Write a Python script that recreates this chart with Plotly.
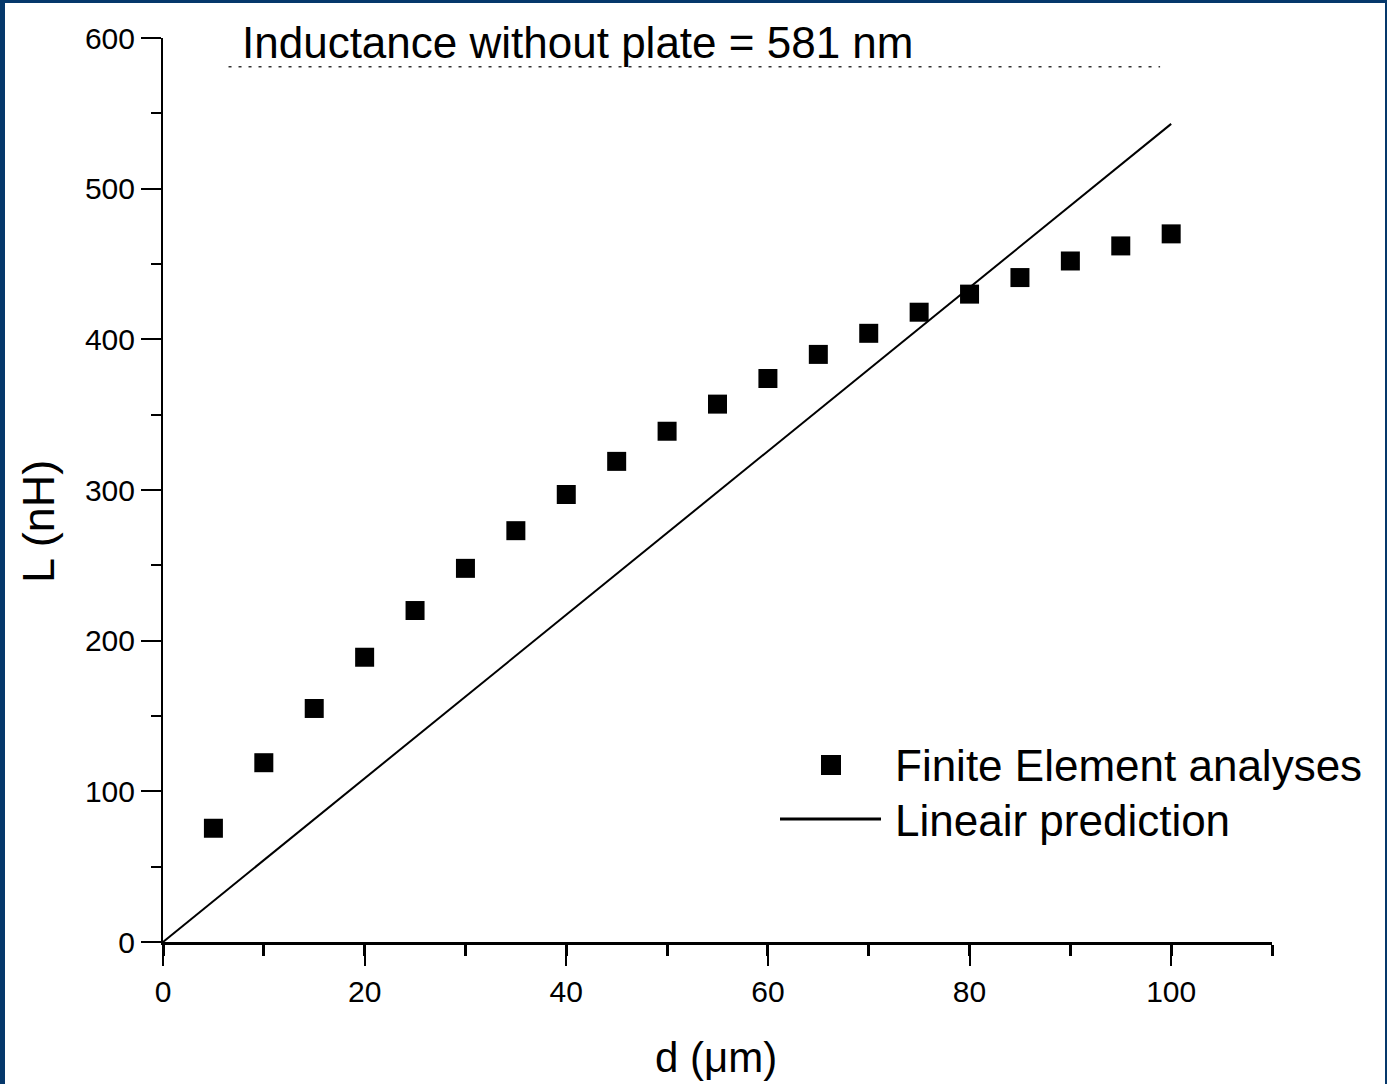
import plotly.graph_objects as go

# ---- data ----
d_fe = [5, 10, 15, 20, 25, 30, 35, 40, 45, 50, 55, 60, 65, 70, 75, 80, 85, 90, 95, 100]
L_fe = [75.5, 119, 155, 189, 220, 248, 273, 297, 319, 339, 357, 374, 390, 404, 418, 430, 441, 452, 462, 470]

d_lin = [0, 100]
L_lin = [0, 543]

no_plate_L = 581
no_plate_d = [6.5, 98.9]

x_ticks = [0, 20, 40, 60, 80, 100]
y_ticks = [0, 100, 200, 300, 400, 500, 600]

FONT = "Liberation Sans, Arial, sans-serif"
FRAME = "#05386b"

fig = go.Figure()

fig.add_trace(go.Scatter(
    x=no_plate_d, y=[no_plate_L] * len(no_plate_d), mode="lines",
    line=dict(color="#333333", width=1.5, dash="3px,7px"),
    showlegend=False, hoverinfo="skip"))

fig.add_trace(go.Scatter(
    x=d_lin, y=L_lin, mode="lines",
    line=dict(color="black", width=2),
    name="Lineair prediction", showlegend=False))

fig.add_trace(go.Scatter(
    x=d_fe, y=L_fe, mode="markers",
    marker=dict(symbol="square", size=19, color="black"),
    name="Finite Element analyses", showlegend=False))

# pixel -> paper helpers (plot area: x 163..1272, y 38..942)
def px(x):
    return (x - 163) / 1109.0

def py(y):
    return (942 - y) / 904.0

shapes = [
    # white page inside the blue frame
    dict(type="rect", xref="paper", yref="paper", layer="below",
         x0=px(5), x1=px(1385), y0=py(1100), y1=py(3),
         fillcolor="white", line=dict(width=0)),
    # legend marker
    dict(type="rect", xref="paper", yref="paper",
         x0=px(821), x1=px(841), y0=py(775), y1=py(755),
         fillcolor="black", line=dict(width=0)),
    # legend line
    dict(type="line", xref="paper", yref="paper",
         x0=px(780), x1=px(881), y0=py(819), y1=py(819),
         line=dict(color="black", width=3)),
]

annotations = [
    dict(text="Inductance without plate = 581 nm", xref="paper", yref="paper",
         x=px(240), y=py(42), xanchor="left", yanchor="middle", showarrow=False,
         font=dict(family=FONT, size=44, color="black")),
    dict(text="Finite Element analyses", xref="paper", yref="paper",
         x=px(893), y=py(765), xanchor="left", yanchor="middle", showarrow=False,
         font=dict(family=FONT, size=44, color="black")),
    dict(text="Lineair prediction", xref="paper", yref="paper",
         x=px(893), y=py(820), xanchor="left", yanchor="middle", showarrow=False,
         font=dict(family=FONT, size=44, color="black")),
    dict(text="d (\u03bcm)", xref="paper", yref="paper",
         x=px(716), y=py(1057), xanchor="center", yanchor="middle", showarrow=False,
         font=dict(family=FONT, size=42, color="black")),
    dict(text="L (nH)", xref="paper", yref="paper", textangle=-90,
         x=px(38), y=py(522), xanchor="center", yanchor="middle", showarrow=False,
         font=dict(family=FONT, size=45, color="black")),
]

fig.update_layout(
    width=1387, height=1084,
    margin=dict(l=163, r=115, t=38, b=142, pad=0),
    paper_bgcolor=FRAME, plot_bgcolor="white",
    font=dict(family=FONT, color="black"),
    shapes=shapes, annotations=annotations,
    showlegend=False,
)

fig.update_xaxes(
    range=[0, 110], tickvals=x_ticks, ticktext=[str(v) for v in x_ticks],
    showgrid=False, zeroline=False,
    showline=True, linecolor="black", linewidth=3,
    ticks="outside", ticklen=21, tickwidth=2, tickcolor="black",
    tickfont=dict(family=FONT, size=30, color="black"),
    minor=dict(dtick=10, tick0=0, ticks="outside", ticklen=11, tickwidth=3,
               tickcolor="black", showgrid=False),
)
fig.update_yaxes(
    range=[0, 600], tickvals=y_ticks, ticktext=[str(v) for v in y_ticks],
    showgrid=False, zeroline=False,
    showline=True, linecolor="black", linewidth=2,
    ticks="outside", ticklen=20, tickwidth=2, tickcolor="black",
    tickfont=dict(family=FONT, size=30, color="black"),
    minor=dict(dtick=50, tick0=0, ticks="outside", ticklen=10, tickwidth=2,
               tickcolor="black", showgrid=False),
)

fig.write_html(
    "out.html",
    config={"displayModeBar": False},
    post_script="document.body.style.margin='0';document.body.style.overflow='hidden';",
)
